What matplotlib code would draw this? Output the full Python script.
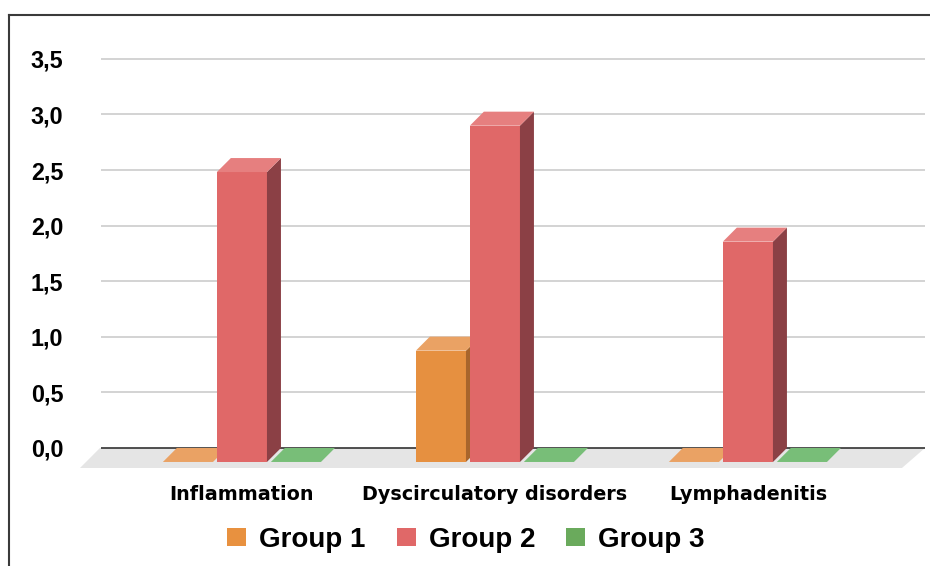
import matplotlib
matplotlib.use("Agg")
import matplotlib.pyplot as plt
from matplotlib.patches import Polygon, Patch
from matplotlib.lines import Line2D

# ---- data ----
categories = ["Inflammation", "Dyscirculatory disorders", "Lymphadenitis"]
series_names = ["Group 1", "Group 2", "Group 3"]
group1 = [0.0, 0.96, 0.0]
group2 = [2.5, 2.9, 1.9]
group3 = [0.0, 0.0, 0.0]
yticks = [0.0, 0.5, 1.0, 1.5, 2.0, 2.5, 3.0, 3.5]
ytick_labels = ["0,0", "0,5", "1,0", "1,5", "2,0", "2,5", "3,0", "3,5"]

# ---- style ----
front_cols = ["#e69040", "#e06868", "#78be78"]
top_cols = ["#eaa264", "#e67f7f", "#78be78"]
side_cols = ["#a8652c", "#8b4045", "#4f8a4f"]
legend_cols = ["#e8913f", "#e06868", "#6aaa5c"]

bar_w = 0.198
bar_step = 0.2134
ddx = 0.0553      # depth offset (x, data units)
ddy = 0.126       # depth offset (y, data units)
front_scale = 1.043
front_base = -ddy

fig = plt.figure(figsize=(9.30, 5.66), dpi=100)
fig.patch.set_facecolor("white")
ax = fig.add_axes([80 / 930, 1 - 470.2 / 566, 845 / 930, (470.2 - 47.7) / 566])
ax.set_xlim(-0.640, 2.700)
ax.set_ylim(-0.2, 3.6)
for s in ax.spines.values():
    s.set_visible(False)

# floor
floor = Polygon([(-0.640, -0.18), (2.609, -0.18), (2.700, 0.0), (-0.561, 0.0)],
                closed=True, facecolor="#e5e5e5", edgecolor="none", zorder=1)
ax.add_patch(floor)

# gridlines on back wall
for v in yticks:
    if v == 0:
        ax.hlines(v, -0.557, 2.700, color="#333333", lw=1.2, zorder=2)
    else:
        ax.hlines(v, -0.557, 2.700, color="#cccccc", lw=1.2, zorder=2)

series = [group1, group2, group3]
z = 3
for i in range(len(categories)):
    for j, vals in enumerate(series):
        v = vals[i]
        c = i + (j - 1) * bar_step
        x0, x1 = c - bar_w / 2, c + bar_w / 2
        yb = front_base
        yt = front_base + v * front_scale
        if v > 0:
            # front
            ax.add_patch(Polygon([(x0, yb), (x1, yb), (x1, yt), (x0, yt)],
                                 closed=True, facecolor=front_cols[j], edgecolor="none", zorder=z))
            # side
            ax.add_patch(Polygon([(x1, yb), (x1 + ddx, yb + ddy), (x1 + ddx, yt + ddy), (x1, yt)],
                                 closed=True, facecolor=side_cols[j], edgecolor="none", zorder=z))
        # top
        ax.add_patch(Polygon([(x0, yt), (x1, yt), (x1 + ddx, yt + ddy), (x0 + ddx, yt + ddy)],
                             closed=True, facecolor=top_cols[j], edgecolor="none", zorder=z))
        z += 1

ax.set_yticks(yticks)
ax.set_yticklabels(ytick_labels, fontfamily="Liberation Sans", fontweight="bold", fontsize=16.8)
ax.tick_params(axis="y", length=0, pad=12)
ax.set_xticks(range(len(categories)))
ax.set_xticklabels(categories, fontfamily="DejaVu Sans", fontweight="bold", fontsize=13.8)
ax.tick_params(axis="x", length=0, pad=11)

handles = [Patch(facecolor=legend_cols[k], edgecolor="none", label=series_names[k]) for k in range(3)]
fig.legend(handles=handles, loc="center", bbox_to_anchor=(466 / 930, 1 - 540 / 566), ncol=3,
           frameon=False, prop={"family": "Liberation Sans", "weight": "bold", "size": 20},
           handlelength=0.68, handleheight=0.62, handletextpad=0.47, columnspacing=1.12)

# outer frame lines (top and left)
fig.add_artist(Line2D([9 / 930, 1.0], [1 - 15 / 566, 1 - 15 / 566], transform=fig.transFigure,
                      color="#3a3a3a", lw=1.5))
fig.add_artist(Line2D([9 / 930, 9 / 930], [0, 1 - 15 / 566], transform=fig.transFigure,
                      color="#3a3a3a", lw=1.5))

fig.savefig("out.png", dpi=100, facecolor="white")
